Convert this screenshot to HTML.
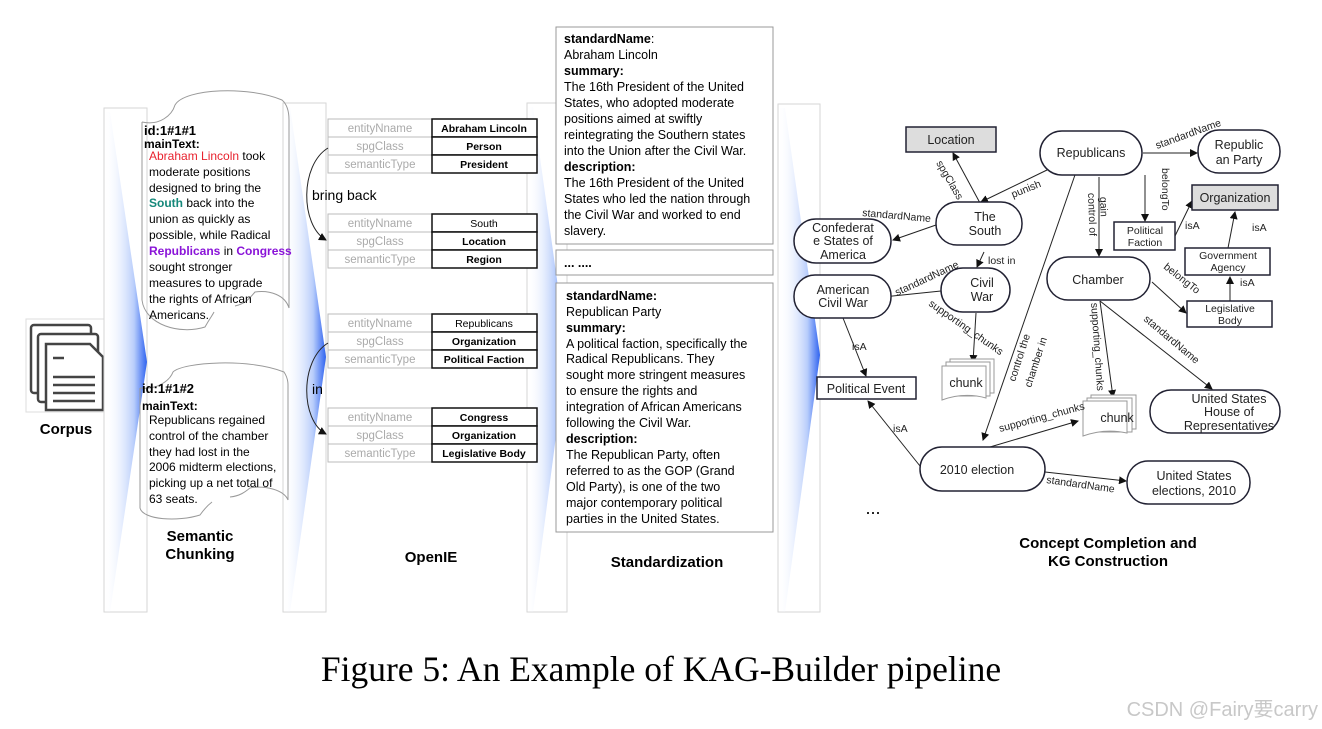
<!DOCTYPE html>
<html><head><meta charset="utf-8"><style>
html,body{margin:0;padding:0;background:#fff;}
svg{display:block;font-family:"Liberation Sans",sans-serif;}
.g{fill:#aaa;font-size:11.5px;}
.b{font-size:10.5px;font-weight:bold;}
.t{font-size:12px;}
.s{font-size:12.5px;}
.k{font-size:12.5px;}
.e{font-size:10.5px;}
</style></head><body>
<svg width="1322" height="729" viewBox="0 0 1322 729" xmlns="http://www.w3.org/2000/svg">
<defs>
<linearGradient id="bg" x1="0" x2="1" y1="0" y2="0">
<stop offset="0" stop-color="#fff" stop-opacity="0"/>
<stop offset="0.7" stop-color="#b8cdfb"/>
<stop offset="1" stop-color="#2f63f0"/>
</linearGradient>
<marker id="a" markerWidth="8" markerHeight="8" refX="7" refY="4" orient="auto" markerUnits="userSpaceOnUse"><path d="M0,0 L8,4 L0,8 z" fill="#111"/></marker>
</defs>

<rect x="26" y="319" width="78" height="93" fill="#fff" stroke="#ddd"/>
<g fill="#fff" stroke="#444" stroke-width="2.5">
<rect x="31" y="325" width="60" height="68" rx="3"/>
<rect x="38" y="334" width="60" height="68" rx="3"/>
<path d="M46,344 H90 L103,357 V410 H46 z"/>
</g>
<g stroke="#444" stroke-width="2.5"><line x1="53" y1="358" x2="64" y2="358"/><line x1="53" y1="377" x2="95" y2="377"/><line x1="53" y1="385" x2="95" y2="385"/><line x1="53" y1="393" x2="95" y2="393"/><line x1="53" y1="401" x2="95" y2="401"/></g>
<text x="66" y="434" text-anchor="middle" font-size="15" font-weight="bold">Corpus</text>

<rect x="104" y="108" width="43" height="504" fill="#fff" stroke="#d6d6d6"/>
<polygon points="104,112 110,112 147,362 110,612 104,612" fill="url(#bg)"/>
<rect x="283" y="103" width="43" height="509" fill="#fff" stroke="#d6d6d6"/>
<polygon points="283,107 290,107 326,357 290,612 283,612" fill="url(#bg)"/>
<rect x="527" y="103" width="40" height="509" fill="#fff" stroke="#d6d6d6"/>
<polygon points="527,107 533,107 567,352 533,612 527,612" fill="url(#bg)"/>
<rect x="778" y="104" width="42" height="508" fill="#fff" stroke="#d6d6d6"/>
<polygon points="778,108 785,108 820,355 785,612 778,612" fill="url(#bg)"/>

<path d="M142,122 C160,126 172,115 175,105 C185,88 250,86 282,100 Q289,106 289,120 L289,308 C285,295 270,290 255,292 C250,298 245,304 235,306 M142,122 L142,300 C145,325 180,335 205,327 C210,318 212,316 214,312" fill="none" stroke="#999" stroke-width="1"/>
<path d="M140,388 C158,390 170,380 173,372 C183,362 250,358 284,372 Q288,378 288,385 L288,500 C284,490 265,485 250,488 C245,492 240,496 230,497 M140,388 L140,508 C143,520 178,522 200,515 C205,508 208,505 212,502" fill="none" stroke="#999" stroke-width="1"/>
<g class="t">
<text x="144" y="135" font-size="13" font-weight="bold">id:1#1#1</text>
<text x="144" y="148" font-weight="bold">mainText:</text>
<text x="149" y="160"><tspan fill="#e8222e">Abraham Lincoln</tspan> took</text>
<text x="149" y="176">moderate positions</text>
<text x="149" y="192">designed to bring the</text>
<text x="149" y="207"><tspan fill="#15887a" font-weight="bold">South</tspan> back into the</text>
<text x="149" y="223">union as quickly as</text>
<text x="149" y="239">possible, while Radical</text>
<text x="149" y="255"><tspan fill="#8a14d8" font-weight="bold">Republicans</tspan> in <tspan fill="#8a14d8" font-weight="bold">Congress</tspan></text>
<text x="149" y="271">sought stronger</text>
<text x="149" y="287">measures to upgrade</text>
<text x="149" y="303">the rights of African</text>
<text x="149" y="319">Americans.</text>
<text x="142" y="393" font-size="13" font-weight="bold">id:1#1#2</text>
<text x="142" y="410" font-weight="bold">mainText:</text>
<text x="149" y="424">Republicans regained</text>
<text x="149" y="440">control of the chamber</text>
<text x="149" y="456">they had lost in the</text>
<text x="149" y="471">2006 midterm elections,</text>
<text x="149" y="487">picking up a net total of</text>
<text x="149" y="503">63 seats.</text>
</g>
<text x="200" y="541" text-anchor="middle" font-size="15" font-weight="bold">Semantic</text>
<text x="200" y="559" text-anchor="middle" font-size="15" font-weight="bold">Chunking</text>

<g>
<g transform="translate(0,119)">
<rect x="328" width="104" height="18" fill="#fff" stroke="#bbb"/><rect x="328" y="18" width="104" height="18" fill="#fff" stroke="#bbb"/><rect x="328" y="36" width="104" height="18" fill="#fff" stroke="#bbb"/>
<rect x="432" width="105" height="18" fill="#fff" stroke="#111" stroke-width="1.5"/><rect x="432" y="18" width="105" height="18" fill="#fff" stroke="#111" stroke-width="1.5"/><rect x="432" y="36" width="105" height="18" fill="#fff" stroke="#111" stroke-width="1.5"/>
<text x="380" y="13" class="g" text-anchor="middle">entityNname</text><text x="380" y="31" class="g" text-anchor="middle">spgClass</text><text x="380" y="49" class="g" text-anchor="middle">semanticType</text>
<text x="484" y="13" class="b" font-size="9.5" text-anchor="middle">Abraham Lincoln</text><text x="484" y="31" class="b" font-size="12" text-anchor="middle">Person</text><text x="484" y="49" class="b" font-size="12" text-anchor="middle">President</text>
</g>
<g transform="translate(0,214)">
<rect x="328" width="104" height="18" fill="#fff" stroke="#bbb"/><rect x="328" y="18" width="104" height="18" fill="#fff" stroke="#bbb"/><rect x="328" y="36" width="104" height="18" fill="#fff" stroke="#bbb"/>
<rect x="432" width="105" height="18" fill="#fff" stroke="#111" stroke-width="1.5"/><rect x="432" y="18" width="105" height="18" fill="#fff" stroke="#111" stroke-width="1.5"/><rect x="432" y="36" width="105" height="18" fill="#fff" stroke="#111" stroke-width="1.5"/>
<text x="380" y="13" class="g" text-anchor="middle">entityNname</text><text x="380" y="31" class="g" text-anchor="middle">spgClass</text><text x="380" y="49" class="g" text-anchor="middle">semanticType</text>
<text x="484" y="13" font-size="10.5" text-anchor="middle">South</text><text x="484" y="31" class="b" text-anchor="middle">Location</text><text x="484" y="49" class="b" text-anchor="middle">Region</text>
</g>
<g transform="translate(0,314)">
<rect x="328" width="104" height="18" fill="#fff" stroke="#bbb"/><rect x="328" y="18" width="104" height="18" fill="#fff" stroke="#bbb"/><rect x="328" y="36" width="104" height="18" fill="#fff" stroke="#bbb"/>
<rect x="432" width="105" height="18" fill="#fff" stroke="#111" stroke-width="1.5"/><rect x="432" y="18" width="105" height="18" fill="#fff" stroke="#111" stroke-width="1.5"/><rect x="432" y="36" width="105" height="18" fill="#fff" stroke="#111" stroke-width="1.5"/>
<text x="380" y="13" class="g" text-anchor="middle">entityNname</text><text x="380" y="31" class="g" text-anchor="middle">spgClass</text><text x="380" y="49" class="g" text-anchor="middle">semanticType</text>
<text x="484" y="13" font-size="10.5" text-anchor="middle">Republicans</text><text x="484" y="31" class="b" text-anchor="middle">Organization</text><text x="484" y="49" class="b" text-anchor="middle">Political Faction</text>
</g>
<g transform="translate(0,408)">
<rect x="328" width="104" height="18" fill="#fff" stroke="#bbb"/><rect x="328" y="18" width="104" height="18" fill="#fff" stroke="#bbb"/><rect x="328" y="36" width="104" height="18" fill="#fff" stroke="#bbb"/>
<rect x="432" width="105" height="18" fill="#fff" stroke="#111" stroke-width="1.5"/><rect x="432" y="18" width="105" height="18" fill="#fff" stroke="#111" stroke-width="1.5"/><rect x="432" y="36" width="105" height="18" fill="#fff" stroke="#111" stroke-width="1.5"/>
<text x="380" y="13" class="g" text-anchor="middle">entityNname</text><text x="380" y="31" class="g" text-anchor="middle">spgClass</text><text x="380" y="49" class="g" text-anchor="middle">semanticType</text>
<text x="484" y="13" class="b" text-anchor="middle">Congress</text><text x="484" y="31" class="b" text-anchor="middle">Organization</text><text x="484" y="49" class="b" text-anchor="middle">Legislative Body</text>
</g>
</g>
<path d="M328,148 C300,165 300,225 326,240" fill="none" stroke="#222" marker-end="url(#a)"/>
<path d="M328,343 C300,360 300,420 326,434" fill="none" stroke="#222" marker-end="url(#a)"/>
<text x="312" y="200" font-size="14">bring back</text>
<text x="312" y="394" font-size="14">in</text>
<text x="431" y="562" text-anchor="middle" font-size="15" font-weight="bold">OpenIE</text>

<rect x="556" y="27" width="217" height="217" fill="#fff" stroke="#999"/>
<rect x="556" y="250" width="217" height="25" fill="#fff" stroke="#999"/>
<rect x="556" y="283" width="217" height="249" fill="#fff" stroke="#999"/>
<g class="s">
<text x="564" y="43"><tspan font-weight="bold">standardName</tspan>:</text>
<text x="564" y="59">Abraham Lincoln</text>
<text x="564" y="75" font-weight="bold">summary:</text>
<text x="564" y="91">The 16th President of the United</text>
<text x="564" y="107">States, who adopted moderate</text>
<text x="564" y="123">positions aimed at swiftly</text>
<text x="564" y="139">reintegrating the Southern states</text>
<text x="564" y="155">into the Union after the Civil War.</text>
<text x="564" y="171" font-weight="bold">description:</text>
<text x="564" y="187">The 16th President of the United</text>
<text x="564" y="203">States who led the nation through</text>
<text x="564" y="219">the Civil War and worked to end</text>
<text x="564" y="235">slavery.</text>
<text x="564" y="267" font-weight="bold">... ....</text>
<text x="566" y="300" font-weight="bold">standardName:</text>
<text x="566" y="316">Republican Party</text>
<text x="566" y="332" font-weight="bold">summary:</text>
<text x="566" y="348">A political faction, specifically the</text>
<text x="566" y="363">Radical Republicans. They</text>
<text x="566" y="379">sought more stringent measures</text>
<text x="566" y="395">to ensure the rights and</text>
<text x="566" y="411">integration of African Americans</text>
<text x="566" y="427">following the Civil War.</text>
<text x="566" y="443" font-weight="bold">description:</text>
<text x="566" y="459">The Republican Party, often</text>
<text x="566" y="475">referred to as the GOP (Grand</text>
<text x="566" y="491">Old Party), is one of the two</text>
<text x="566" y="507">major contemporary political</text>
<text x="566" y="523">parties in the United States.</text>
</g>
<text x="667" y="567" text-anchor="middle" font-size="15" font-weight="bold">Standardization</text>

<g stroke="#222" stroke-width="1" fill="none" marker-end="url(#a)">
<line x1="980" y1="203" x2="953" y2="153"/>
<line x1="1047" y1="170" x2="981" y2="202"/>
<line x1="936" y1="225" x2="893" y2="240"/>
<line x1="1143" y1="153" x2="1197" y2="153"/>
<line x1="1145" y1="175" x2="1145" y2="221"/>
<line x1="1099" y1="177" x2="1099" y2="256"/>
<line x1="1076" y1="172" x2="983" y2="440"/>
<line x1="1175" y1="236" x2="1192" y2="201"/>
<line x1="1228" y1="248" x2="1235" y2="212"/>
<line x1="1230" y1="301" x2="1230" y2="277"/>
<line x1="1152" y1="282" x2="1186" y2="313"/>
<line x1="1100" y1="301" x2="1113" y2="397"/>
<line x1="1100" y1="301" x2="1212" y2="389"/>
<line x1="984" y1="252" x2="977" y2="267"/>
<line x1="941" y1="291" x2="874" y2="298"/>
<line x1="976" y1="313" x2="973" y2="362"/>
<line x1="843" y1="318" x2="866" y2="376"/>
<line x1="920" y1="466" x2="868" y2="401"/>
<line x1="990" y1="447" x2="1078" y2="421"/>
<line x1="1045" y1="472" x2="1126" y2="481"/>
</g>
<g stroke="#223" stroke-width="1.5" fill="#fff">
<rect x="906" y="127" width="90" height="25" fill="#ddd"/>
<rect x="1192" y="185" width="86" height="25" fill="#ddd"/>
<rect x="1114" y="222" width="61" height="28"/>
<rect x="1185" y="248" width="85" height="27"/>
<rect x="1187" y="301" width="85" height="26"/>
<rect x="817" y="377" width="99" height="22"/>
<rect x="1040" y="131" width="102" height="44" rx="22"/>
<rect x="1198" y="130" width="82" height="43" rx="21"/>
<rect x="936" y="202" width="86" height="43" rx="21"/>
<rect x="794" y="219" width="97" height="44" rx="22"/>
<rect x="941" y="268" width="69" height="44" rx="22"/>
<rect x="794" y="275" width="97" height="43" rx="21"/>
<rect x="1047" y="257" width="103" height="43" rx="21"/>
<rect x="1150" y="390" width="130" height="43" rx="21"/>
<rect x="920" y="447" width="125" height="44" rx="22"/>
<rect x="1127" y="461" width="123" height="43" rx="21"/>
</g>
<g fill="#fff" stroke="#999">
<rect x="950" y="359" width="44" height="34"/><rect x="946" y="362" width="44" height="34"/>
<path d="M942,366 H986 V398 Q964,392 942,400 z"/>
<rect x="1091" y="395" width="45" height="34"/><rect x="1087" y="398" width="45" height="34"/>
<path d="M1083,401 H1127 V433 Q1105,428 1083,436 z"/>
</g>
<g class="k" text-anchor="middle" fill="#222">
<text x="951" y="144">Location</text>
<text x="1235" y="202">Organization</text>
<text x="1091" y="157">Republicans</text>
<text x="1239" y="149">Republic</text><text x="1239" y="164">an Party</text>
<text x="985" y="221">The</text><text x="985" y="235">South</text>
<text x="843" y="232">Confederat</text><text x="843" y="245">e States of</text><text x="843" y="259">America</text>
<text x="1145" y="234" font-size="10.5">Political</text><text x="1145" y="246" font-size="10.5">Faction</text>
<text x="1228" y="259" font-size="10.5">Government</text><text x="1228" y="271" font-size="10.5">Agency</text>
<text x="982" y="287">Civil</text><text x="982" y="301">War</text>
<text x="843" y="294">American</text><text x="843" y="307">Civil War</text>
<text x="1098" y="284">Chamber</text>
<text x="1230" y="312" font-size="10.5">Legislative</text><text x="1230" y="324" font-size="10.5">Body</text>
<text x="966" y="387">chunk</text>
<text x="866" y="393">Political Event</text>
<text x="1117" y="422">chunk</text>
<text x="1229" y="403">United States</text><text x="1229" y="416">House of</text><text x="1229" y="430">Representatives</text>
<text x="977" y="474">2010 election</text>
<text x="1194" y="480">United States</text><text x="1194" y="495">elections, 2010</text>
</g>
<text x="873" y="514" font-size="18" text-anchor="middle">...</text>
<g class="e" fill="#222">
<text transform="translate(936,163) rotate(60)">spgClass</text>
<text transform="translate(1013,198) rotate(-22)">punish</text>
<text transform="translate(862,216) rotate(5)">standardName</text>
<text transform="translate(1157,149) rotate(-20)">standardName</text>
<text transform="translate(1162,168) rotate(90)">belongTo</text>
<text transform="translate(1100,197) rotate(88)">gain</text>
<text transform="translate(1088,193) rotate(88)">control of</text>
<text x="1185" y="229">isA</text>
<text x="1252" y="231">isA</text>
<text x="1240" y="286">isA</text>
<text transform="translate(1163,268) rotate(38)">belongTo</text>
<text transform="translate(1091,303) rotate(86)">supporting_chunks</text>
<text transform="translate(1143,320) rotate(40)">standardName</text>
<text x="988" y="264">lost in</text>
<text transform="translate(897,296) rotate(-25)">standardName</text>
<text transform="translate(928,305) rotate(35)">supporting_chunks</text>
<text transform="translate(1015,382) rotate(-72)">control the</text>
<text transform="translate(1031,388) rotate(-72)">chamber in</text>
<text x="852" y="350">isA</text>
<text x="893" y="432">isA</text>
<text transform="translate(1000,432) rotate(-15)">supporting_chunks</text>
<text transform="translate(1046,483) rotate(8)">standardName</text>
</g>
<text x="1108" y="548" text-anchor="middle" font-size="15" font-weight="bold">Concept Completion and</text>
<text x="1108" y="566" text-anchor="middle" font-size="15" font-weight="bold">KG Construction</text>

<text x="661" y="681" text-anchor="middle" font-family="Liberation Serif, serif" font-size="35.5">Figure 5: An Example of KAG-Builder pipeline</text>
<text x="1318" y="716" text-anchor="end" font-family="Liberation Sans, Noto Sans CJK SC, sans-serif" font-size="20" fill="#c8c8c8">CSDN @Fairy要carry</text>
</svg>
</body></html>
